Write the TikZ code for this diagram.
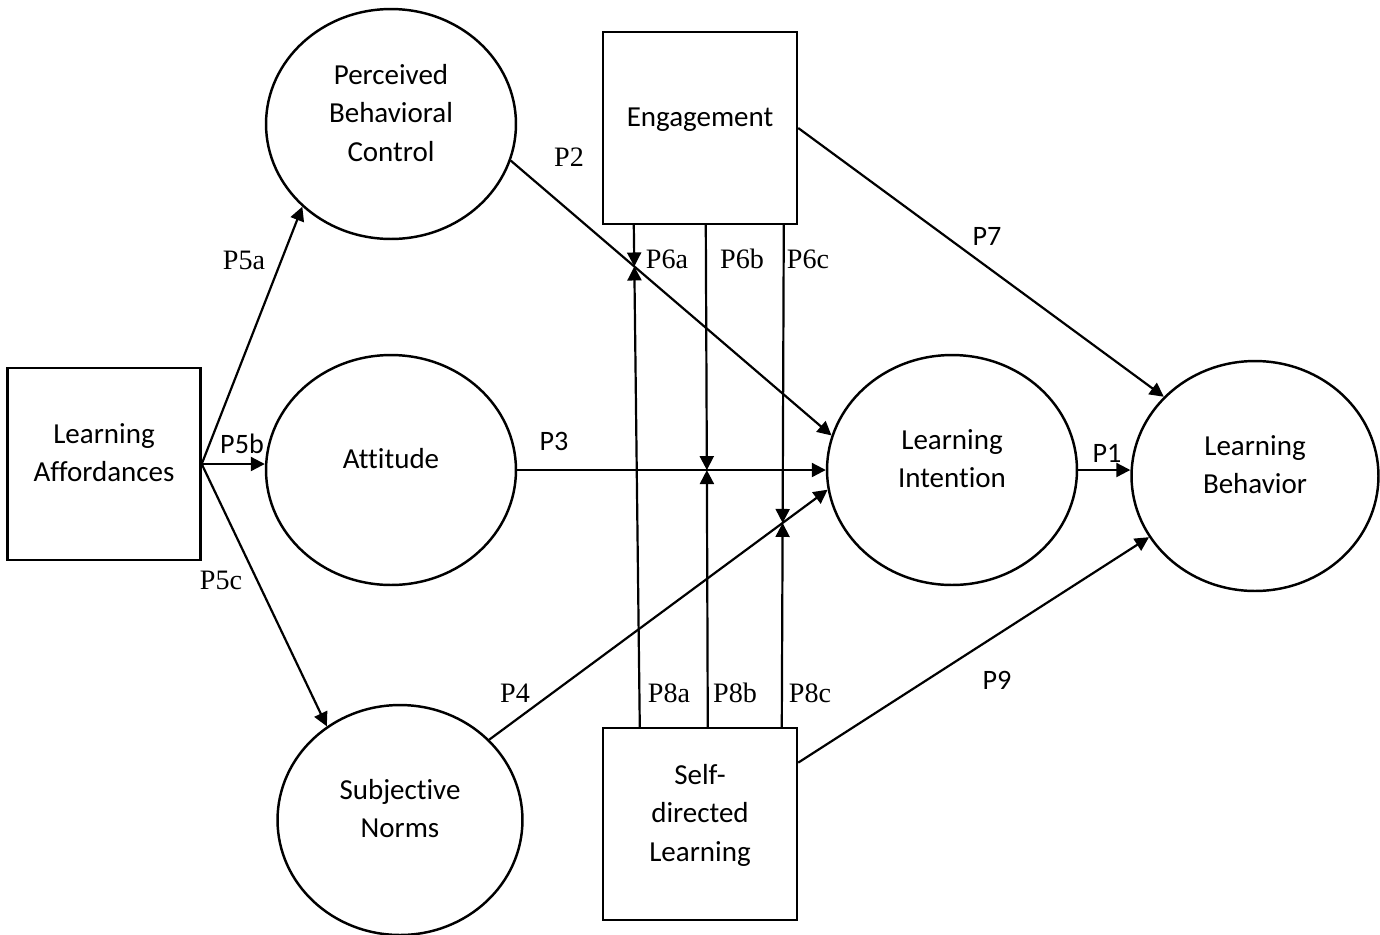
\documentclass[tikz,border=0pt]{standalone}
\usepackage{fontspec}
\setmainfont{Carlito}[Ligatures=NoCommon]
\newfontfamily\timesfont{Liberation Serif}
\usetikzlibrary{arrows.meta,calc,shapes.geometric}

\begin{document}
\begin{tikzpicture}[
    x=0.02cm, y=-0.02cm,
    line width=1.25pt,
    latent/.style={draw,ellipse,line width=1.4pt,minimum width=5cm,minimum height=4.6cm,
      align=center,text depth=0.45cm,font=\fontsize{16.5}{21.8}\selectfont},
    observed/.style={draw,rectangle,line width=1.4pt,minimum width=3.88cm,minimum height=3.84cm,
      align=center,text depth=0.45cm,font=\fontsize{16.5}{21.8}\selectfont},
    link/.style={-{Triangle[length=0.28cm,width=0.28cm]}},
    plab/.style={inner sep=0pt,font=\timesfont\fontsize{16}{19}\selectfont},
    slab/.style={inner sep=0pt,font=\fontsize{16}{19}\selectfont},
  ]

  \useasboundingbox (0,0) rectangle (1380,934);

  \node (la) at (104,464) [observed,minimum width=3.86cm] {Learning\\Affordances};
  \node (pbc) at (391,124) [latent] {Perceived\\Behavioral\\Control};
  \node (att) at (391,470) [latent] {Attitude};
  \node (sn) at (400,820) [latent,minimum width=4.9cm] {Subjective\\Norms};
  \node (eng) at (700,128) [observed] {Engagement};
  \node (sdl) at (700,824) [observed] {Self-\\directed\\Learning};
  \node (li) at (952,470) [latent] {Learning\\Intention};
  \node (lb) at (1255,476) [latent,minimum width=4.94cm] {Learning\\Behavior};

  \draw[link] (la.east) -- (pbc.223);
  \draw[link] (la.east) -- (la.east -| att.west);
  \draw[link] (la.east) -- (sn.128);

  \draw[link] (pbc.343) -- (li.164);
  \draw[link] (att.east) -- (li.west);
  \draw[link] (sn.42) -- (li.189);
  \draw[link] (li.east) -- (li.east -| lb.west);
  \draw[link] (eng.east) -- (lb.139);
  \draw[link] (sdl.32) -- (lb.210);

  % moderating paths
  \coordinate (e6a) at ($(eng.south west)+(32,0)$);
  \coordinate (e6b) at ($(eng.south west)+(104,0)$);
  \coordinate (e6c) at ($(eng.south west)+(182,0)$);
  \coordinate (s8a) at ($(sdl.north west)+(38,0)$);
  \coordinate (s8b) at ($(sdl.north west)+(106,0)$);
  \coordinate (s8c) at ($(sdl.north west)+(180,0)$);

  \coordinate (ma) at (intersection of pbc.343--li.164 and e6a--s8a);
  \coordinate (mb) at (intersection of att.east--li.west and e6b--s8b);
  \coordinate (mc) at (intersection of sn.42--li.189 and e6c--s8c);

  \foreach \p in {a,b,c}
  {
    \draw[link] (e6\p) -- (m\p);
    \draw[link] (s8\p) -- (m\p);
  }

  \node (t5a) at (244,260) [plab] {P5a};
  \node (t5b) at (242,444) [slab] {P5b};
  \node (t5c) at (221,580) [plab] {P5c};
  \node (t2) at (569,157) [plab] {P2};
  \node (t3) at (554,441) [slab] {P3};
  \node (t4) at (515,693) [plab] {P4};
  \node (t1) at (1107,453) [slab] {P1};
  \node (t7) at (987,236) [slab] {P7};
  \node (t9) at (997,680) [slab] {P9};

  \foreach \p/\x in {a/667,b/742,c/808}
    \node (t6\p) at (\x,259) [plab] {P6\p};
  \foreach \p/\x in {a/669,b/735,c/810}
    \node (t8\p) at (\x,693) [plab] {P8\p};

\end{tikzpicture}
\end{document}
